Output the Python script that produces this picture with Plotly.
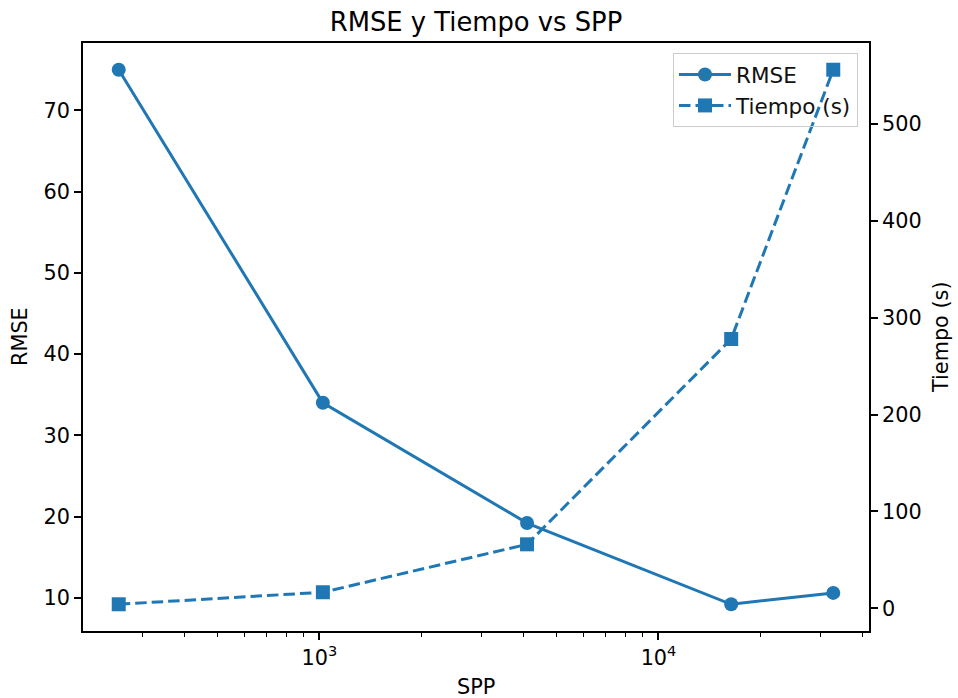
import plotly.graph_objects as go
import numpy as np

spp = [256, 1024, 4096, 16384, 32768]
rmse = [75.0, 34.0, 19.2, 9.2, 10.6]
tiempo = [4.1, 16.5, 66.0, 278.0, 556.0]

x_major = [1000, 10000]
x_major_text = ["10<sup>3</sup>", "10<sup>4</sup>"]
x_minor = [200, 300, 400, 500, 600, 700, 800, 900,
           2000, 3000, 4000, 5000, 6000, 7000, 8000, 9000,
           20000, 30000, 40000]
y1_ticks = [10, 20, 30, 40, 50, 60, 70]
y2_ticks = [0, 100, 200, 300, 400, 500]

C = "#1f77b4"
FONT = "DejaVu Sans"

def pad(vals, frac=0.05):
    lo, hi = min(vals), max(vals)
    d = (hi - lo) * frac
    return [lo - d, hi + d]

lx = np.log10(spp)
xr = pad(list(lx))

fig = go.Figure()
fig.add_trace(go.Scatter(x=spp, y=rmse, name="RMSE", mode="lines+markers",
                         line=dict(color=C, width=3),
                         marker=dict(symbol="circle", size=14, color=C)))
fig.add_trace(go.Scatter(x=spp, y=tiempo, name="Tiempo (s)", mode="lines+markers",
                         yaxis="y2",
                         line=dict(color=C, width=3, dash="11.5px,5px"),
                         marker=dict(symbol="square", size=14, color=C)))

axis_common = dict(showline=True, linecolor="black", linewidth=1.6,
                   ticks="outside", ticklen=7, tickwidth=1.6, tickcolor="black",
                   showgrid=False, zeroline=False,
                   tickfont=dict(family=FONT, size=20.8, color="black"))

fig.update_layout(
    width=958, height=698,
    margin=dict(l=83, r=89, t=43, b=67),
    paper_bgcolor="white", plot_bgcolor="white",
    font=dict(family=FONT, color="black"),
    title=dict(text="RMSE y Tiempo vs SPP", x=0.5, xref="paper",
               y=1 - 22 / 698, yref="container", yanchor="middle",
               font=dict(family=FONT, size=25.8, color="black")),
    xaxis=dict(type="log", range=xr, tickvals=x_major, ticktext=x_major_text,
               mirror=True,
               minor=dict(tickvals=x_minor, ticks="outside", ticklen=4,
                          tickwidth=1.2, tickcolor="black", showgrid=False),
               **axis_common),
    yaxis=dict(range=pad(rmse), tickvals=y1_ticks, **axis_common),
    yaxis2=dict(range=pad(tiempo), tickvals=y2_ticks, overlaying="y", side="right",
                **axis_common),
    legend=dict(x=0.986, y=0.983, xanchor="right", yanchor="top",
                bgcolor="rgba(255,255,255,0)", bordercolor="#cccccc", borderwidth=1,
                font=dict(family=FONT, size=21.5, color="#111111"),
                tracegroupgap=0, itemwidth=52),
    showlegend=True,
    annotations=[
        dict(text="SPP", xref="paper", yref="paper", x=0.5, y=-(687 - 631) / 588,
             yanchor="middle", showarrow=False, font=dict(family=FONT, size=20.8)),
        dict(text="RMSE", xref="paper", yref="paper", x=-(83 - 20) / 786, y=0.5,
             xanchor="center", yanchor="middle", textangle=-90, showarrow=False,
             font=dict(family=FONT, size=20.8)),
        dict(text="Tiempo (s)", xref="paper", yref="paper", x=1 + (941 - 869) / 786, y=0.5,
             xanchor="center", yanchor="middle", textangle=-90, showarrow=False,
             font=dict(family=FONT, size=20.8)),
    ],
)

fig.write_html("out.html")
